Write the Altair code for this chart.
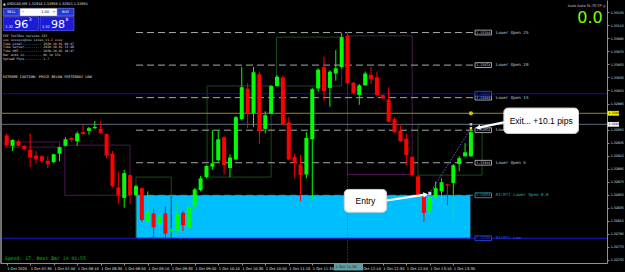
import altair as alt
import pandas as pd

# ---------------- data ----------------
opens = [1.32946, 1.32930, 1.32937, 1.32930, 1.32924, 1.32915, 1.32914, 1.32907, 1.32905, 1.32918,
         1.32930, 1.32942, 1.32937, 1.32951, 1.32953, 1.32957, 1.32956, 1.32948, 1.32918, 1.32866,
         1.32850, 1.32885, 1.32854, 1.32865, 1.32813, 1.32826, 1.32811, 1.32826, 1.32799, 1.32800,
         1.32827, 1.32804, 1.32838, 1.32862, 1.32882, 1.32898, 1.32908, 1.32943, 1.32896, 1.32909,
         1.32971, 1.33018, 1.32980, 1.33040, 1.32956, 1.32980, 1.33022, 1.33035, 1.32966, 1.32913,
         1.32901, 1.32886, 1.32940, 1.33018, 1.33051, 1.33019, 1.33041, 1.33051, 1.33099, 1.33027,
         1.33008, 1.33023, 1.33039, 1.33035, 1.33008, 1.33001, 1.32971, 1.32953, 1.32941, 1.32913,
         1.32883, 1.32854, 1.32830, 1.32850, 1.32860, 1.32871, 1.32873, 1.32902, 1.32914, 1.32914]
highs = [1.32949, 1.32940, 1.32939, 1.32931, 1.32949, 1.32922, 1.32916, 1.32914, 1.32918, 1.32929,
         1.32943, 1.32943, 1.32952, 1.32962, 1.32959, 1.32968, 1.32968, 1.32949, 1.32922, 1.32890,
         1.32893, 1.32886, 1.32870, 1.32866, 1.32860, 1.32834, 1.32823, 1.32837, 1.32803, 1.32844,
         1.32830, 1.32837, 1.32865, 1.32884, 1.32900, 1.32954, 1.32954, 1.32945, 1.32917, 1.32976,
         1.33051, 1.33026, 1.33051, 1.33044, 1.32983, 1.33023, 1.33039, 1.33038, 1.32974, 1.32918,
         1.32916, 1.32951, 1.33019, 1.33049, 1.33067, 1.33046, 1.33077, 1.33104, 1.33105, 1.33028,
         1.33025, 1.33044, 1.33051, 1.33044, 1.33009, 1.33020, 1.32974, 1.32961, 1.32948, 1.32914,
         1.32885, 1.32857, 1.32857, 1.32875, 1.32880, 1.32872, 1.32902, 1.32914, 1.32934, 1.32958]
lows = [1.32928, 1.32922, 1.32929, 1.32923, 1.32897, 1.32903, 1.32903, 1.32896, 1.32903, 1.32906,
        1.32929, 1.32936, 1.32930, 1.32947, 1.32947, 1.32956, 1.32949, 1.32911, 1.32866, 1.32841,
        1.32835, 1.32841, 1.32853, 1.32813, 1.32812, 1.32788, 1.32796, 1.32788, 1.32797, 1.32795,
        1.32799, 1.32803, 1.32831, 1.32860, 1.32880, 1.32893, 1.32906, 1.32886, 1.32882, 1.32908,
        1.32969, 1.32957, 1.32959, 1.32933, 1.32949, 1.32979, 1.33020, 1.32962, 1.32908, 1.32880,
        1.32845, 1.32880, 1.32846, 1.33013, 1.32999, 1.32990, 1.33030, 1.33049, 1.33025, 1.33009,
        1.32993, 1.33022, 1.33025, 1.33006, 1.33002, 1.32966, 1.32950, 1.32936, 1.32900, 1.32883,
        1.32853, 1.32813, 1.32826, 1.32846, 1.32839, 1.32839, 1.32816, 1.32891, 1.32913, 1.32913]
closes = [1.32931, 1.32939, 1.32930, 1.32925, 1.32912, 1.32909, 1.32907, 1.32902, 1.32917, 1.32928,
          1.32940, 1.32939, 1.32949, 1.32948, 1.32957, 1.32959, 1.32950, 1.32915, 1.32868, 1.32854,
          1.32888, 1.32854, 1.32868, 1.32816, 1.32828, 1.32805, 1.32822, 1.32795, 1.32801, 1.32825,
          1.32808, 1.32836, 1.32863, 1.32880, 1.32899, 1.32903, 1.32940, 1.32900, 1.32912, 1.32974,
          1.33020, 1.32980, 1.33043, 1.32953, 1.32977, 1.33022, 1.33036, 1.32963, 1.32909, 1.32904,
          1.32885, 1.32942, 1.33017, 1.33047, 1.33014, 1.33044, 1.33049, 1.33097, 1.33026, 1.33011,
          1.33023, 1.33041, 1.33032, 1.33008, 1.33003, 1.32967, 1.32951, 1.32937, 1.32916, 1.32885,
          1.32854, 1.32827, 1.32851, 1.32865, 1.32874, 1.32869, 1.32900, 1.32911, 1.32920, 1.32951]

time_labels = ["1 Oct 2020", "1 Oct 07:30", "1 Oct 07:50", "1 Oct 08:10", "1 Oct 08:30",
               "1 Oct 08:50", "1 Oct 09:10", "1 Oct 09:30", "1 Oct 09:50", "1 Oct 10:10",
               "1 Oct 10:30", "1 Oct 10:50", "1 Oct 11:10", "1 Oct 11:30", "1 Oct 11:50",
               "1 Oct 12:10", "1 Oct 12:30", "1 Oct 12:50", "1 Oct 13:10", "1 Oct 13:30"]
label_bars = [0, 4, 8, 12, 16, 20, 24, 28, 32, 36, 40, 44, 48, 52, 60, 64, 68, 72, 76]
cursor_bar_label = "1 Oct 11:50"
price_ticks = [1.32755, 1.32775, 1.32795, 1.32815, 1.32835, 1.32855, 1.32875, 1.32895, 1.32915,
               1.32935, 1.32955, 1.32995, 1.33015, 1.33035, 1.33055, 1.33075, 1.33095,
               1.33115, 1.33135]

level_prices = [1.33104, 1.33054, 1.33004, 1.32954, 1.32904, 1.32854]
level_names = ["Lower Open 25", "Lower Open 20", "Lower Open 15", "Lower Open 10",
               "Lower Open 5", "R1(RT) Lower Open 0.0"]

ask_price = 1.32980
bid_price = 1.32963
blue_high = 1.33010
blue_low = 1.32788

zone_bars = [22.0, 78.9]
zone_prices = [1.32854, 1.32788]

box_start = [-0.3, 9.9, 22.0, 34.1, 45.9, 58.0, 70.0]
box_end = [9.0, 21.0, 28.0, 45.0, 57.0, 69.0, 80.9]
box_top = [1.32936, 1.32931, 1.32882, 1.33022, 1.33097, 1.33099, 1.32963]
box_bottom = [1.32928, 1.32854, 1.32788, 1.32882, 1.33022, 1.32886, 1.32885]
box_kind = ["purple", "purple", "green", "green", "green", "purple", "green"]

entry_bar, entry_price = 72, 1.32857
exit_bar, exit_price = 79, 1.32957

info_lines = ["EEE ToolBox Version 333",
              "xxx xxxxxxx@xxx Lines_v1.2 xxxx",
              "Time Local.......... 2020.10.01 09:47",
              "Time Server......... 2020.10.01 13:48",
              "Time GMT............ 2020.10.01 10:47",
              "Bar ends in......... 0h 1m 55s",
              "Spread Pips......... 1.7"]

# ---------------- chart ----------------
XDOM = [-0.285, 101.3]
YDOM = [1.32750, 1.33154]
xs = alt.Scale(domain=XDOM, nice=False, zero=False)
ys = alt.Scale(domain=YDOM, nice=False, zero=False)
W, H = 607, 263

label_expr = "[" + ",".join("'" + t + "'" for t in time_labels) + "][round(datum.value/4)]"
axis_x = alt.Axis(values=label_bars, orient="bottom", title=None, grid=False,
                  labelExpr=label_expr,
                  labelAlign="left", labelBaseline="top", labelFontSize=3.6,
                  labelColor="#e8e8e8", labelFont="DejaVu Sans", labelPadding=1.2,
                  labelOverlap=False, labelFlush=False, labelBound=False,
                  tickSize=2, tickColor="#909090", domainColor="#909090")
axis_y = alt.Axis(values=price_ticks, orient="right", title=None, grid=False,
                  format=".5f", labelFontSize=3.2, labelColor="#e0e0e0",
                  labelFont="DejaVu Sans", labelPadding=1.2, labelOverlap=False,
                  labelFlush=False, labelBound=False, tickSize=2,
                  tickColor="#909090", domainColor="#909090")

candles = pd.DataFrame({"i": list(range(len(opens))), "o": opens, "h": highs,
                        "l": lows, "c": closes})
candles["col"] = ["#00ff00" if c >= o else "#ff0000" for o, c in zip(opens, closes)]

one = pd.DataFrame({"a": [0]})


def X(f):
    return alt.X(f, type="quantitative", scale=xs, axis=axis_x)


def Y(f):
    return alt.Y(f, type="quantitative", scale=ys, axis=axis_y)


def prect(x1, y1, x2, y2, **kw):
    return alt.Chart(one).mark_rect(**kw).encode(
        x=alt.value(x1), x2=alt.value(x2), y=alt.value(y1), y2=alt.value(y2))


def ptext(x, y, s, **kw):
    return alt.Chart(one).mark_text(text=s, **kw).encode(x=alt.value(x), y=alt.value(y))


def drect(x0, x1, p0, p1, **kw):
    d = pd.DataFrame({"x0": [x0], "x1": [x1], "p0": [p0], "p1": [p1]})
    return alt.Chart(d).mark_rect(**kw).encode(x=X("x0"), x2="x1", y=Y("p0"), y2="p1")


def dtext(x, p, s, **kw):
    d = pd.DataFrame({"x": [x], "p": [p]})
    return alt.Chart(d).mark_text(text=s, **kw).encode(x=X("x"), y=Y("p"))


def dpoint(x, p, **kw):
    d = pd.DataFrame({"x": [x], "p": [p]})
    return alt.Chart(d).mark_point(**kw).encode(x=X("x"), y=Y("p"))


layers = []

# cyan zone
layers.append(drect(zone_bars[0], zone_bars[1], zone_prices[0], zone_prices[1], fill="#00bfff"))

# outline boxes
boxes = pd.DataFrame({"x0": box_start, "x1": box_end, "p0": box_top, "p1": box_bottom})
boxes["col"] = ["#4a1850" if k == "purple" else "#1a4a1a" for k in box_kind]
layers.append(alt.Chart(boxes).mark_rect(fillOpacity=0, strokeWidth=1).encode(
    x=X("x0"), x2="x1", y=Y("p0"), y2="p1",
    stroke=alt.Stroke("col:N", scale=None)))

# dotted vertical separator
sep = pd.DataFrame({"x": [58.0], "p0": [1.32886], "p1": [YDOM[0]]})
layers.append(alt.Chart(sep).mark_rule(color="#4a6070", strokeDash=[1, 2]).encode(
    x=X("x"), y=Y("p0"), y2="p1"))

# dashed levels
levels = pd.DataFrame({"p": level_prices})
levels["x0"] = 22.0
levels["x1"] = 79.4
levels["col"] = ["#a8a8a8"] * (len(level_prices) - 1) + ["#2aa8b8"]
layers.append(alt.Chart(levels).mark_rule(strokeDash=[7, 4], strokeWidth=1).encode(
    x=X("x0"), x2="x1", y=Y("p"), color=alt.Color("col:N", scale=None)))

# full-width horizontal lines
hl = pd.DataFrame({"p": [blue_high, ask_price, bid_price, blue_low],
                   "col": ["#1010a8", "#8c8c22", "#5c6a7a", "#1818d0"]})
layers.append(alt.Chart(hl).mark_rule(strokeWidth=1).encode(
    x=alt.value(0), x2=alt.value(W), y=Y("p"), color=alt.Color("col:N", scale=None)))

# candles: wicks and bodies
layers.append(alt.Chart(candles).mark_rule(strokeWidth=1).encode(
    x=X("i"), y=Y("l"), y2="h", color=alt.Color("col:N", scale=None)))
layers.append(alt.Chart(candles).mark_bar(size=4).encode(
    x=X("i"), y=Y("o"), y2="c", color=alt.Color("col:N", scale=None)))

# level labels (price box + name)
lab = pd.DataFrame({"p": level_prices + [blue_high, blue_low],
                    "name": level_names + ["", "R1(RT) Low"]})
lab["txt"] = [f"{p:.5f}" for p in lab["p"]]
lab["col"] = ["#c8c8c8"] * (len(level_prices) - 1) + ["#2ab0c0", "#3050ff", "#3050ff"]
lab["x0"] = 79.7
lab["x1"] = 82.5
lab["xc"] = 81.1
lab["xn"] = 83.2
layers.append(alt.Chart(lab).mark_rect(fill="#000000", strokeWidth=0.8,
                                       yOffset=-2.4, y2Offset=2.4).encode(
    x=X("x0"), x2="x1", y=Y("p"), y2="p",
    stroke=alt.Stroke("col:N", scale=None)))
layers.append(alt.Chart(lab).mark_text(fontSize=3.3, font="DejaVu Sans Mono",
                                       align="center", baseline="middle").encode(
    x=X("xc"), y=Y("p"), text="txt:N", color=alt.Color("col:N", scale=None)))
layers.append(alt.Chart(lab).mark_text(fontSize=4.2, font="DejaVu Sans Mono",
                                       align="left", baseline="middle").encode(
    x=X("xn"), y=Y("p"), text="name:N", color=alt.Color("col:N", scale=None)))

# trade line and markers
trade = pd.DataFrame({"i": [entry_bar, exit_bar], "p": [entry_price, exit_price]})
layers.append(alt.Chart(trade).mark_line(color="#5070d0", strokeDash=[1.5, 1.5],
                                         strokeWidth=1).encode(x=X("i"), y=Y("p")))
layers.append(dpoint(entry_bar, entry_price, shape="square", size=10, filled=True,
                     color="#c0d8ff", opacity=1))
layers.append(dpoint(exit_bar, exit_price, shape="square", size=6, filled=True,
                     color="#e8e800", opacity=1))
layers.append(dpoint(exit_bar, ask_price, shape="circle", size=18, filled=True,
                     color="#c8c800", opacity=1))
layers.append(dpoint(exit_bar, bid_price, shape="square", size=6, filled=True,
                     color="#c0c0c0", opacity=1))

# callouts
layers.append(drect(57.45, 64.65, 1.32863, 1.32828, fill="white", stroke="#d0d0d0",
                    cornerRadius=4))
layers.append(dtext(61.05, 1.32846, "Entry", fontSize=8.5, font="Liberation Sans",
                    color="black", align="center", baseline="middle"))
arr1 = pd.DataFrame({"i": [64.65, 71.2], "p": [1.32846, 1.32855]})
layers.append(alt.Chart(arr1).mark_line(color="white", strokeWidth=2.2).encode(
    x=X("i"), y=Y("p")))
layers.append(dpoint(71.3, 1.32855, shape="triangle-right", angle=352, size=30,
                     filled=True, color="white", opacity=1))

layers.append(drect(84.6, 97.3, 1.32988, 1.32949, fill="white", stroke="#d0d0d0",
                    cornerRadius=4))
layers.append(dtext(90.95, 1.32968, "Exit... +10.1 pips", fontSize=8.5,
                    font="Liberation Sans", color="black", align="center",
                    baseline="middle"))
arr2 = pd.DataFrame({"i": [84.6, 80.3], "p": [1.32966, 1.32958]})
layers.append(alt.Chart(arr2).mark_line(color="white", strokeWidth=2.2).encode(
    x=X("i"), y=Y("p")))
layers.append(dpoint(80.2, 1.32958, shape="triangle-left", angle=350, size=30,
                     filled=True, color="white", opacity=1))

# price markers on the right axis
pm = pd.DataFrame({"p": [ask_price, bid_price], "fill": ["#f0f000", "#f4f4f4"]})
pm["txt"] = [f"{p:.5f}" for p in pm["p"]]
layers.append(alt.Chart(pm).mark_rect(yOffset=-2.4, y2Offset=2.4).encode(
    x=alt.value(W + 0.5), x2=alt.value(W + 12), y=Y("p"), y2="p",
    fill=alt.Fill("fill:N", scale=None)))
layers.append(alt.Chart(pm).mark_text(fontSize=3.2, font="DejaVu Sans", color="black",
                                      align="left", baseline="middle").encode(
    x=alt.value(W + 1.5), y=Y("p"), text="txt:N"))

# ---- terminal overlays (pixel positions) ----
layers.append(prect(0, 0, 2, H, fill="#707070"))
title_txt = ("\u25b2 USDCAD,M5  " + f"{opens[-1]:.5f} {highs[-1]:.5f} "
             f"{lows[-1]:.5f} {closes[-1]:.5f}")
layers.append(ptext(3, 4.3, title_txt, fontSize=3.4, font="DejaVu Sans", color="#e8e8e8",
                    align="left", baseline="middle"))
layers.append(prect(3.3, 8.3, 19.3, 16, fill="#2438d8", stroke="#7f8fff", strokeWidth=0.6))
layers.append(prect(57.3, 8.3, 74, 16, fill="#2438d8", stroke="#7f8fff", strokeWidth=0.6))
layers.append(prect(20, 8.3, 57, 16, fill="#ffffff", stroke="#8080a0", strokeWidth=0.5))
layers.append(ptext(11.3, 12.3, "SELL", fontSize=3.5, font="DejaVu Sans", color="white",
                    align="center", baseline="middle"))
layers.append(ptext(65.6, 12.3, "BUY", fontSize=3.5, font="DejaVu Sans", color="white",
                    align="center", baseline="middle"))
layers.append(ptext(23, 12.3, "\u2212", fontSize=3.5, font="DejaVu Sans", color="black",
                    align="center", baseline="middle"))
layers.append(ptext(54, 12.3, "+", fontSize=3.5, font="DejaVu Sans", color="black",
                    align="center", baseline="middle"))
layers.append(ptext(49, 12.3, "1.00", fontSize=3.5, font="DejaVu Sans", color="black",
                    align="right", baseline="middle"))
for x0, x1, big, small in [(3.3, 38.7, "96", "3"), (40, 74, "98", "8")]:
    layers.append(prect(x0, 16.7, x1, 30.5, fill="#1c1cd8", stroke="#6a6aff", strokeWidth=0.6))
    layers.append(ptext(x0 + 2, 28.5, "1.32", fontSize=3.5, font="DejaVu Sans",
                        color="white", align="left", baseline="bottom"))
    layers.append(ptext(x0 + 11, 29.6, big, fontSize=11, font="DejaVu Sans",
                        color="white", align="left", baseline="bottom"))
    layers.append(ptext(x0 + 25.5, 22.3, small, fontSize=4.5, font="DejaVu Sans",
                        color="white", align="left", baseline="bottom"))
for k, line in enumerate(info_lines):
    layers.append(ptext(3, 36.3 + 3.7 * k, line, fontSize=3.2, font="DejaVu Sans Mono",
                        color="#d8d8d8", align="left", baseline="middle"))
layers.append(ptext(3, 76.7, "EXTREME CAUTION: PRICE BELOW YESTERDAY LOW", fontSize=3.5,
                    font="DejaVu Sans Mono", color="#e8e8e8", align="left", baseline="middle"))
layers.append(ptext(W - 1, 5.5, "Auto Auto SL-TS-TP \u25ce", fontSize=3.6,
                    font="DejaVu Sans", color="#d0d0d0", align="right", baseline="middle"))
layers.append(ptext(590, 25.5, "0.0", fontSize=16, font="DejaVu Sans", color="#7fff00",
                    align="center", baseline="bottom"))
layers.append(ptext(5, 259.3, "Speed: 17. Next Bar in 01:55", fontSize=4.8,
                    font="DejaVu Sans Mono", color="#00c800", align="left", baseline="middle"))
layers.append(prect(334, H + 0.5, 363, H + 7.5, fill="#5f9ea0"))
layers.append(ptext(335.5, H + 4, cursor_bar_label, fontSize=3.6, font="DejaVu Sans",
                    color="#102020", align="left", baseline="middle"))

chart = alt.layer(*layers).properties(
    width=W, height=H,
    padding={"left": 0, "top": 0, "right": 18, "bottom": 9},
    autosize=alt.AutoSizeParams(type="none"),
).configure(background="#000000").configure_view(stroke=None)

chart.save("out.html", embed_options={"renderer": "svg", "actions": False})
